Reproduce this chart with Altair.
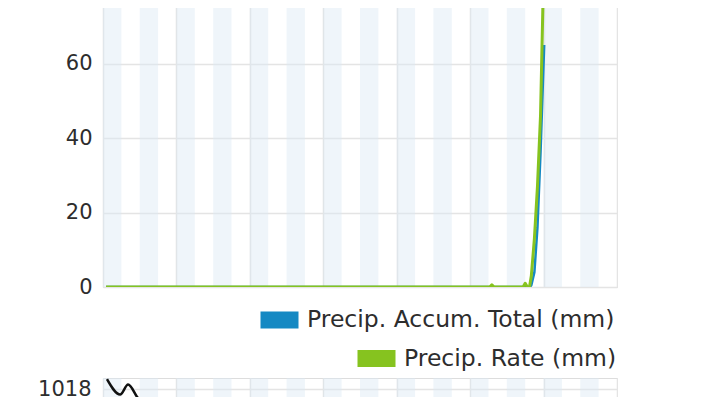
import altair as alt
import pandas as pd

FONT = "DejaVu Sans"
TEXT = "#2d2d2d"
GRID = "#e4e4e4"
BLUE = "#1589c3"
GREEN = "#86c31f"

# --- data (hours from chart start) ---
rate_hours = [1, 126.4, 127.1, 127.8, 137.3, 138.0, 138.7, 139.4, 140, 141, 142, 143, 144]
rate_vals = [0, 0, 0.6, 0, 0, 1.0, 0, 0, 3, 13, 27, 46, 84]

accum_hours = [1, 139.5, 140, 141, 142, 143, 144.2]
accum_vals = [0, 0, 0.5, 4, 16, 36, 65]

pres_hours = [1.3, 5.6, 8.2, 11.4, 16, 24]
pres_vals = [1018.9, 1017.5, 1018.4, 1017.2, 1016.3, 1015.6]

band_start = [0, 12, 24, 36, 48, 60, 72, 84, 96, 108, 120, 132, 144, 156]
band_end = [6, 18, 30, 42, 54, 66, 78, 90, 102, 114, 126, 138, 150, 162]
day_ticks = [0, 24, 48, 72, 96, 120, 144, 168]

precip_ticks = [0, 20, 40, 60]
pres_ticks = [1018]

ACC = "Precip. Accum. Total (mm)"
RATE = "Precip. Rate (mm)"

bands = pd.DataFrame({"start": band_start, "end": band_end})
rate = pd.DataFrame({"h": rate_hours, "v": rate_vals, "s": RATE})
accum = pd.DataFrame({"h": accum_hours, "v": accum_vals, "s": ACC})
pres = pd.DataFrame({"h": pres_hours, "v": pres_vals})

x_scale = alt.Scale(domain=[0, 168], nice=False, zero=False)


def x_axis():
    return alt.Axis(values=day_ticks, labels=False, ticks=False, domain=False,
                    title=None, grid=True, gridColor=GRID, gridWidth=1.5)


TOP_H = 281
BOT_H = 154

top_y = alt.Scale(domain=[0, 75.5], nice=False, zero=True)
top_y_axis = alt.Axis(values=precip_ticks, title=None, domain=False, ticks=False,
                      labelFontSize=21, labelFont=FONT, labelColor=TEXT,
                      labelPadding=11, gridColor=GRID, gridWidth=1.5)

bands_top = alt.Chart(bands).mark_rect(color="#dce8f5", opacity=0.45, clip=True).encode(
    x=alt.X("start:Q", scale=x_scale, axis=x_axis()),
    x2="end:Q",
    y=alt.value(0),
    y2=alt.value(TOP_H),
)

leg_common = dict(orient="none", title=None, symbolType="stroke", symbolSize=1444,
                  symbolStrokeWidth=17, labelFontSize=23.5, labelFont=FONT,
                  labelColor=TEXT, labelOffset=0, labelLimit=500, padding=0)

acc_line = alt.Chart(accum).mark_line(strokeWidth=2.5, clip=True, strokeJoin="round").encode(
    x=alt.X("h:Q", scale=x_scale, axis=x_axis()),
    y=alt.Y("v:Q", scale=top_y, axis=top_y_axis),
    color=alt.Color("s:N", scale=alt.Scale(domain=[ACC], range=[BLUE]),
                    legend=alt.Legend(legendX=149, legendY=286.5, **leg_common)),
)

rate_line = alt.Chart(rate).mark_line(strokeWidth=3, clip=True, strokeJoin="round").encode(
    x=alt.X("h:Q", scale=x_scale, axis=x_axis()),
    y=alt.Y("v:Q", scale=top_y, axis=top_y_axis),
    stroke=alt.Stroke("s:N", scale=alt.Scale(domain=[RATE], range=[GREEN]),
                      legend=alt.Legend(legendX=246, legendY=325, **leg_common)),
)

top = alt.layer(bands_top, acc_line, rate_line).properties(width=514, height=TOP_H)

bot_y = alt.Scale(domain=[1005, 1019], nice=False, zero=False)
bot_y_axis = alt.Axis(values=pres_ticks, title=None, domain=False, ticks=False,
                      format="d", labelFontSize=21, labelFont=FONT, labelColor=TEXT,
                      labelPadding=12, gridColor=GRID, gridWidth=1.5)

bands_bot = alt.Chart(bands).mark_rect(color="#dce8f5", opacity=0.45, clip=True).encode(
    x=alt.X("start:Q", scale=x_scale, axis=x_axis()),
    x2="end:Q",
    y=alt.value(0),
    y2=alt.value(BOT_H),
)

pres_line = alt.Chart(pres).mark_line(color="#111111", strokeWidth=2.5, clip=True,
                                      interpolate="monotone", strokeJoin="round").encode(
    x=alt.X("h:Q", scale=x_scale, axis=x_axis()),
    y=alt.Y("v:Q", scale=bot_y, axis=bot_y_axis),
)

bottom = alt.layer(bands_bot, pres_line).properties(width=514, height=BOT_H)

chart = alt.vconcat(top, bottom, spacing=91, bounds="flush").properties(
    padding={"left": 29, "top": -3, "right": 0, "bottom": 0}
).resolve_scale(color="independent", stroke="independent").configure_view(
    stroke=GRID, strokeWidth=1.5
).configure(background="white")

chart.save("out.html", embed_options={"renderer": "svg", "actions": False})
